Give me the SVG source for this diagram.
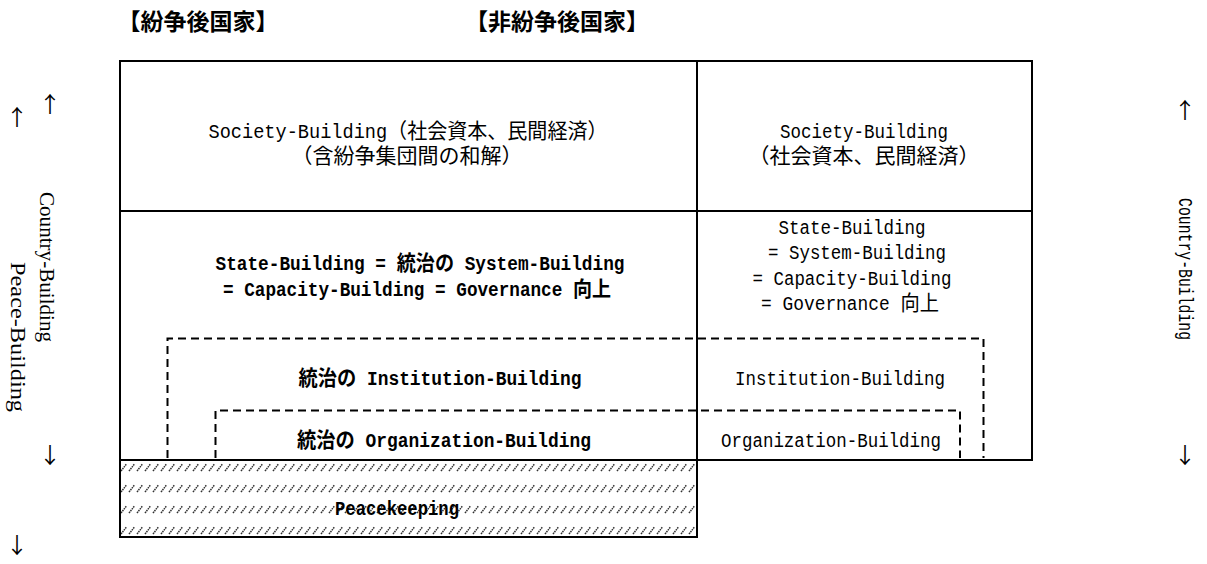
<svg xmlns="http://www.w3.org/2000/svg" width="1207" height="564" viewBox="0 0 1207 564">
<style>
.ln{fill:none;stroke:#000;stroke-width:2}
.dash{fill:none;stroke:#000;stroke-width:2;stroke-dasharray:8 5}
.t{font-family:"Noto Sans CJK JP",sans-serif;font-size:21px;fill:#000}
.m{font-family:"Liberation Mono","Noto Sans CJK JP",monospace;font-size:19.5px}
.b{font-weight:bold}
.title{font-family:"Noto Sans CJK JP",sans-serif;font-size:23px;font-weight:bold;fill:#000}
.serif{font-family:"Liberation Serif",serif;font-size:22px;fill:#000}
.arr{font-family:"Noto Sans CJK JP","DejaVu Sans",sans-serif;font-size:22px;fill:#000}
</style>
<defs>
<pattern id="hatch" patternUnits="userSpaceOnUse" x="120" y="463" width="8" height="21">
<line x1="1" y1="8" x2="6.5" y2="1" stroke="#333" stroke-width="1.5" stroke-dasharray="1.6 0.7"/>
</pattern>
</defs>

<g id="titles">
<text class="title" x="198" y="30" text-anchor="middle">【紛争後国家】</text>
<text class="title" x="557" y="30" text-anchor="middle">【非紛争後国家】</text>
</g>

<g id="peacekeeping">
<rect x="120" y="460" width="577" height="77" fill="url(#hatch)"/>
<path class="ln" d="M120,460 V537 H697 V460"/>
<text class="t b" x="397" y="515" text-anchor="middle" textLength="124" lengthAdjust="spacingAndGlyphs"><tspan class="m">Peacekeeping</tspan></text>
</g>

<g id="frame">
<rect class="ln" x="120" y="61" width="912" height="399"/>
<line class="ln" x1="697" y1="61" x2="697" y2="460"/>
<line class="ln" x1="120" y1="211" x2="1032" y2="211"/>
</g>

<g id="connectors">
<path class="dash" d="M167.5,458 V338.5 H983.5 V458"/>
<path class="dash" d="M215.5,458 V410.5 H960 V458"/>
</g>

<g id="society-post">
<text class="t" x="408" y="138" text-anchor="middle" textLength="399" lengthAdjust="spacingAndGlyphs"><tspan class="m">Society-Building</tspan>（社会資本、民間経済）</text>
<text class="t" x="407" y="163" text-anchor="middle">（含紛争集団間の和解）</text>
</g>

<g id="society-non">
<text class="t" x="864" y="138" text-anchor="middle" textLength="168" lengthAdjust="spacingAndGlyphs"><tspan class="m">Society-Building</tspan></text>
<text class="t" x="864" y="163" text-anchor="middle">（社会資本、民間経済）</text>
</g>

<g id="state-post">
<text class="t b" x="420" y="270" text-anchor="middle" textLength="409" lengthAdjust="spacingAndGlyphs"><tspan class="m">State-Building = </tspan>統治の<tspan class="m"> System-Building</tspan></text>
<text class="t b" x="417" y="296" text-anchor="middle" textLength="388" lengthAdjust="spacingAndGlyphs"><tspan class="m">= Capacity-Building = Governance </tspan>向上</text>
</g>

<g id="state-non">
<text class="t" x="852" y="234" text-anchor="middle" textLength="147" lengthAdjust="spacingAndGlyphs"><tspan class="m">State-Building</tspan></text>
<text class="t" x="857" y="259" text-anchor="middle" textLength="178" lengthAdjust="spacingAndGlyphs"><tspan class="m">= System-Building</tspan></text>
<text class="t" x="852" y="285" text-anchor="middle" textLength="199" lengthAdjust="spacingAndGlyphs"><tspan class="m">= Capacity-Building</tspan></text>
<text class="t" x="850" y="310" text-anchor="middle" textLength="178" lengthAdjust="spacingAndGlyphs"><tspan class="m">= Governance </tspan>向上</text>
</g>

<g id="institution">
<text class="t b" x="440" y="385" text-anchor="middle" textLength="283" lengthAdjust="spacingAndGlyphs">統治の<tspan class="m"> Institution-Building</tspan></text>
<text class="t" x="840" y="385" text-anchor="middle" textLength="210" lengthAdjust="spacingAndGlyphs"><tspan class="m">Institution-Building</tspan></text>
</g>

<g id="organization">
<text class="t b" x="444" y="447" text-anchor="middle" textLength="294" lengthAdjust="spacingAndGlyphs">統治の<tspan class="m"> Organization-Building</tspan></text>
<text class="t" x="831" y="447" text-anchor="middle" textLength="220" lengthAdjust="spacingAndGlyphs"><tspan class="m">Organization-Building</tspan></text>
</g>

<g id="left-labels">
<text class="arr" x="17" y="125" text-anchor="middle">↑</text>
<text class="arr" x="50" y="112" text-anchor="middle">↑</text>
<text class="serif" transform="translate(40,267) rotate(90)" text-anchor="middle" textLength="150" lengthAdjust="spacingAndGlyphs">Country-Building</text>
<text class="serif" transform="translate(11,337) rotate(90)" text-anchor="middle" textLength="150" lengthAdjust="spacingAndGlyphs">Peace-Building</text>
<text class="arr" x="50" y="463" text-anchor="middle">↓</text>
<text class="arr" x="17" y="553" text-anchor="middle">↓</text>
</g>

<g id="right-labels">
<text class="arr" x="1185" y="118" text-anchor="middle">↑</text>
<text transform="translate(1179,269) rotate(90)" text-anchor="middle" style="font-family:'Liberation Mono',monospace;font-size:20px" textLength="142" lengthAdjust="spacingAndGlyphs">Country-Building</text>
<text class="arr" x="1185" y="463" text-anchor="middle">↓</text>
</g>
</svg>
